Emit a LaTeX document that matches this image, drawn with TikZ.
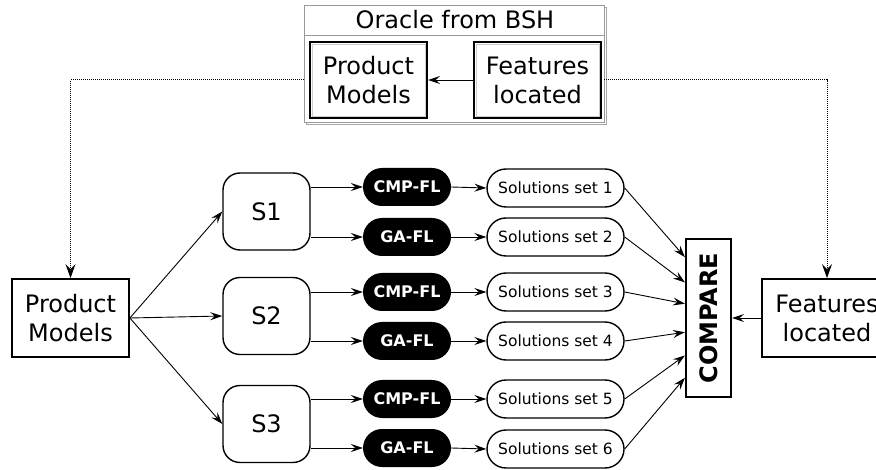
\documentclass[tikz,border=0pt]{standalone}
\usepackage{fontspec}
\setmainfont{DejaVu Sans}
\usetikzlibrary{arrows.meta,calc,positioning}

\tikzset{
  tip/.style={-{Stealth[length=12pt,width=8pt,inset=4.5pt]}},
  bigtip/.style={-{Stealth[length=14pt,width=10pt,inset=5pt]}},
  conn/.style={tip,line width=0.9pt,black},
  bigbox/.style={draw,line width=1.8pt,align=center,inner sep=0pt,
    font=\fontsize{24}{29}\selectfont},
  innerbox/.style={draw,line width=2.2pt,align=center,inner sep=0pt,
    minimum height=76pt,font=\fontsize{24}{29}\selectfont},
  stage/.style={draw,line width=1.4pt,rounded corners=17pt,
    minimum width=87pt,minimum height=77pt,inner sep=0pt,
    font=\fontsize{24}{29}\selectfont},
  algo/.style={fill=black,text=white,rounded corners=19pt,
    minimum width=88pt,minimum height=38pt,inner sep=0pt,
    font=\fontsize{16}{19}\selectfont\bfseries},
  solset/.style={draw,line width=1.4pt,rounded corners=19pt,
    minimum width=137pt,minimum height=38pt,inner sep=0pt,
    font=\fontsize{15.5}{18}\selectfont},
  cmpbox/.style={draw,line width=2.2pt,minimum width=45pt,minimum height=158pt,
    inner sep=0pt},
  oracleline/.style={densely dotted,line width=1pt,bigtip},
}

\begin{document}
\begin{tikzpicture}[x=1pt,y=-1pt]
\useasboundingbox (0,0) rectangle (876,470);

% oracle container with a light shadow on the right and bottom
\draw[gray!70,line width=0.8pt] (306,7) rectangle (606,124);
\node[draw=gray!80,fill=white,line width=0.9pt,minimum width=300pt,minimum height=117pt,inner sep=0pt]
  (oracle) at (454,63.5) {};
\node[font=\fontsize{24}{29}\selectfont] (otitle) at (455,20) {Oracle from BSH};
\draw[gray!80,line width=0.9pt] (oracle.west |- 0,35) -- (oracle.east |- 0,35);

\node[innerbox,minimum width=117pt] (pmI) at (368.5,80) {Product\\Models};
\node[innerbox,minimum width=127pt] (flI) at (537.5,80) {Features\\located};
\draw[gray!40,line width=0.5pt] ($(pmI.north west)+(3,3)$) rectangle ($(pmI.south east)+(-3,-3)$);
\draw[gray!40,line width=0.5pt] ($(flI.north west)+(3,3)$) rectangle ($(flI.south east)+(-3,-3)$);
\draw[conn] (flI.west) -- (pmI.east);

% inputs on both sides
\node[bigbox,minimum width=117pt,minimum height=78pt] (pm) at (70.5,318) {Product\\Models};
\node[bigbox,minimum width=130pt,minimum height=78pt] (fl) at (827,318) {Features\\located};

\draw[oracleline] (pmI.west -| oracle.west) -| (pm.north);
\draw[oracleline] (flI.east -| oracle.east) -| (fl.north);

% stages
\node[stage] (s1) at (266.5,211.5) {S1};
\node[stage] (s2) at (266.5,316) {S2};
\node[stage] (s3) at (266.5,424) {S3};

\draw[conn] (pm.east) -- (s1.west);
\draw[conn] (pm.east) -- (s2.west);
\draw[conn] (pm.east) -- (s3.west);

% algorithms
\node[algo] (c1) at (407,187) {CMP-FL};
\node[algo] (g1) at (407,237) {GA-FL};
\node[algo] (c2) at (407,292) {CMP-FL};
\node[algo] (g2) at (407,341) {GA-FL};
\node[algo] (c3) at (407,399) {CMP-FL};
\node[algo] (g3) at (407,448) {GA-FL};

\draw[conn] (s1.east |- c1) -- (c1.west);
\draw[conn] (s1.east |- g1) -- (g1.west);
\draw[conn] (s2.east |- c2) -- (c2.west);
\draw[conn] (s2.east |- g2) -- (g2.west);
\draw[conn] (s3.east |- c3) -- (c3.west);
\draw[conn] (s3.east |- g3) -- (g3.west);

% solution sets
\node[solset] (r1) at (555.5,188) {Solutions set 1};
\node[solset] (r2) at (555.5,237) {Solutions set 2};
\node[solset] (r3) at (555.5,292) {Solutions set 3};
\node[solset] (r4) at (555.5,341) {Solutions set 4};
\node[solset] (r5) at (555.5,399) {Solutions set 5};
\node[solset] (r6) at (555.5,449) {Solutions set 6};

\draw[conn] (c1.east) -- (r1.west);
\draw[conn] (g1.east) -- (r2.west);
\draw[conn] (c2.east) -- (r3.west);
\draw[conn] (g2.east) -- (r4.west);
\draw[conn] (c3.east) -- (r5.west);
\draw[conn] (g3.east) -- (r6.west);

% comparison
\node[cmpbox] (cmp) at (708.5,318) {};
\node[rotate=90,font=\fontsize{24}{29}\selectfont\bfseries] (cmptext) at (cmp.center) {COMPARE};

\foreach \r/\f in {r1/0.12,r2/0.278,r3/0.411,r4/0.589,r5/0.734,r6/0.873}
  \draw[conn] (\r.east) -- ($(cmp.north west)!\f!(cmp.south west)$);

\draw[conn] (fl.west) -- (cmp.east);
\end{tikzpicture}
\end{document}
